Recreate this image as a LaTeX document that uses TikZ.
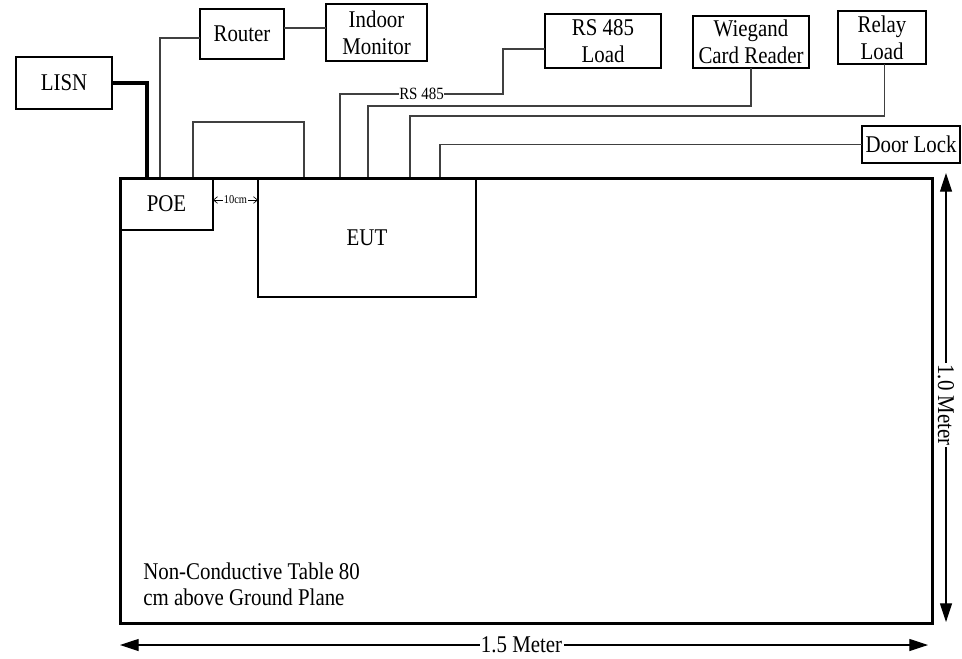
\documentclass[tikz,border=0pt]{standalone}
\usepackage{fontspec}
\setmainfont{Liberation Serif}[FakeStretch=0.87]
\usetikzlibrary{arrows.meta,calc}
\begin{document}
\begin{tikzpicture}[x=0.75pt,y=-0.75pt,
  txt/.style={font=\fontsize{18}{20}\selectfont},
  box/.style={txt, draw, line width=0.95pt, inner sep=0pt, outer sep=0pt, align=center},
  wire/.style={draw=black!75, line width=0.8pt},
  thickwire/.style={draw=black, line width=2.3pt},
  tablebox/.style={draw=black, line width=2.25pt},
  dimline/.style={line width=0.8pt, {Triangle[length=14pt,width=9pt]}-{Triangle[length=14pt,width=9pt]}},
  lbl/.style={txt, fill=white, inner sep=1pt},
  small/.style={font=\fontsize{9}{10}\selectfont, inner sep=0.6pt},
  smallarrow/.style={line width=0.5pt, -{Straight Barb[length=3pt,width=5pt]}}
]
\useasboundingbox (0,0) rectangle (962,658);

% equipment boxes
\node[box, minimum width=72pt, minimum height=39pt] (LISN) at (64,83) {LISN};
\node[box, minimum width=63pt, minimum height=37.5pt] (Router) at (242,34) {Router};
\node[box, minimum width=75.75pt, minimum height=42.75pt] (IM) at (376.5,32.5) {Indoor\\Monitor};
\node[box, minimum width=87pt, minimum height=40.5pt] (RS) at (603,41) {RS 485\\Load};
\node[box, minimum width=87pt, minimum height=39pt] (WG) at (751,42) {Wiegand\\Card Reader};
\node[box, minimum width=66pt, minimum height=39.75pt] (RL) at (882,37.5) {Relay\\Load};
\node[box, minimum width=73.5pt, minimum height=27.75pt] (DL) at (911,144.5) {Door Lock};
\node[box, minimum width=69.75pt, minimum height=39pt] (POE) at (166.5,204) {POE};
\node[box, minimum width=163.5pt, minimum height=89.25pt] (EUT) at (367,237.5) {EUT};

% attachment points on the table top edge
\coordinate (lisnT) at (147,178);
\coordinate (routT) at (160,178);
\coordinate (loopA) at (193,178);
\coordinate (loopB) at (304,178);
\coordinate (rsT) at (340,178);
\coordinate (wgT) at (368,178);
\coordinate (rlT) at (410,178);
\coordinate (dlT) at (440,178);

% connectors
\draw[thickwire] (LISN.east) -| (lisnT);
\draw[wire] ([yshift=-3pt]Router.west) -| (routT);
\draw[wire] ([yshift=4.5pt]Router.east) -- ([yshift=4.5pt]Router.east -| IM.west);
\draw[wire] (loopA) -- ++(0,-56) -| (loopB);
\draw[wire] (rsT) -- ++(0,-84) -- node[lbl, font=\fontsize{12.9}{14}\selectfont, inner sep=0.5pt]{RS 485} ++(163,0) |- ([yshift=-6pt]RS.west);
\draw[wire] (wgT) -- ++(0,-72) -| (WG.south);
\draw[wire] (rlT) -- ++(0,-62) -| ([xshift=2pt]RL.south);
\draw[wire] (dlT) |- (DL.west);

% 10 cm spacing
\node[small] (ten) at (235.5,200) {10cm};
\draw[smallarrow] (ten.west) -- (ten.west -| POE.east);
\draw[smallarrow] (ten.east) -- (ten.east -| EUT.west);

% table
\draw[tablebox] (120,178) rectangle (932,623);
\node[txt, anchor=north west, align=left, inner sep=0pt, font=\fontsize{18}{19.5}\selectfont] (tabletext) at (143,562.5) {Non-Conductive Table 80\\cm above Ground Plane};

% dimensions
\coordinate (vtop) at (946,173);
\coordinate (vbot) at (946,622);
\coordinate (hl) at (120,645);
\coordinate (hr) at (928,645);
\draw[dimline] (vtop) -- node[lbl, rotate=-90, pos=0.517, inner ysep=0pt]{1.0 Meter} (vbot);
\draw[dimline] (hl) -- node[lbl, pos=0.497]{1.5 Meter} (hr);
\end{tikzpicture}
\end{document}
